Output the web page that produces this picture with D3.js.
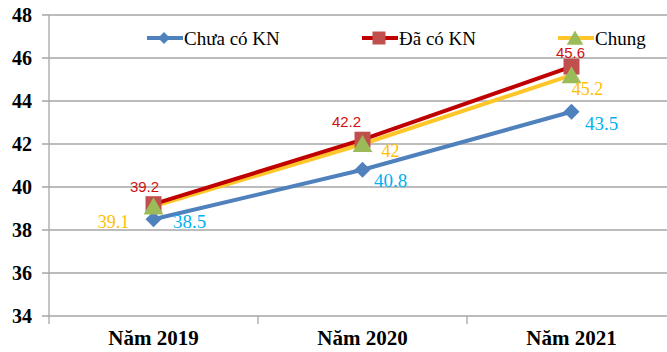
<!DOCTYPE html>
<html><head><meta charset="utf-8">
<script src="https://cdn.jsdelivr.net/npm/d3@7"></script>
<style>body{margin:0;background:#fff}svg{display:block}</style>
</head><body>
<script>
const categories = ["Năm 2019", "Năm 2020", "Năm 2021"];
const seriesNames = ["Chưa có KN", "Đã có KN", "Chung"];
const chuaCoKN = [38.5, 40.8, 43.5];
const daCoKN = [39.2, 42.2, 45.6];
const chung = [39.1, 42, 45.2];
const yTicks = [34, 36, 38, 40, 42, 44, 46, 48];

const W = 667, H = 352;
const svg = d3.select("body").append("svg").attr("width", W).attr("height", H);
const x = d3.scalePoint().domain(categories).range([49, 676]).padding(0.5);
const y = d3.scaleLinear().domain([34, 48]).range([316, 15]);
const serif = "'Liberation Serif','Times New Roman',serif";

svg.append("g").selectAll("line").data(yTicks).join("line")
  .attr("x1", 42).attr("x2", W).attr("y1", d => y(d)).attr("y2", d => y(d))
  .attr("stroke", "#a6a6a6").attr("stroke-width", 1.3);
svg.append("line").attr("x1", 49).attr("x2", 49).attr("y1", y(48)).attr("y2", y(34))
  .attr("stroke", "#a6a6a6").attr("stroke-width", 1.3);
svg.append("g").selectAll("text").data(yTicks).join("text")
  .attr("x", 32).attr("y", d => y(d)).attr("dy", "0.35em").attr("text-anchor", "end")
  .attr("font-family", serif).attr("font-weight", "bold").attr("font-size", 20)
  .attr("fill", "#000").text(d => d);
const step = x.step();
const tickXs = categories.map(c => x(c) - step / 2);
svg.append("g").selectAll("line").data(tickXs).join("line")
  .attr("x1", d => d).attr("x2", d => d).attr("y1", y(34)).attr("y2", y(34) + 8)
  .attr("stroke", "#a6a6a6").attr("stroke-width", 1.3);
svg.append("g").selectAll("text").data(categories).join("text")
  .attr("x", d => x(d)).attr("y", 345).attr("text-anchor", "middle")
  .attr("font-family", serif).attr("font-weight", "bold").attr("font-size", 21)
  .attr("fill", "#000").text(d => d);

const series = [
  {name: seriesNames[0], values: chuaCoKN, line: "#4F81BD", marker: "#4F81BD", shape: "diamond", label: "#00B0F0",
   lfont: serif, lsize: 19, off: [[36, 2], [28, 11], [30, 12]]},
  {name: seriesNames[1], values: daCoKN, line: "#C00000", marker: "#C0504D", shape: "square", label: "#D01010",
   lfont: "'Liberation Sans',Arial,sans-serif", lsize: 15, off: [[-9, -17], [-16, -18], [-1, -14]]},
  {name: seriesNames[2], values: chung, line: "#FFC629", marker: "#9BBB59", shape: "triangle", label: "#FFC000",
   lfont: serif, lsize: 18, off: [[-40, 15], [28, 7], [16, 13]]}
];
function shapePath(shape, r) {
  if (shape === "diamond") return `M0,${-r}L${r},0L0,${r}L${-r},0Z`;
  if (shape === "square") return `M${-r},${-r}H${r}V${r}H${-r}Z`;
  return `M0,${-r}L${r * 1.1},${r * 0.9}H${-r * 1.1}Z`;
}
const markerR = {diamond: 8, square: 8, triangle: 9};
const line = d3.line().x((d, i) => x(categories[i])).y(d => y(d));
[0, 2, 1].forEach(k => {
  const s = series[k];
  svg.append("path").attr("d", line(s.values)).attr("fill", "none")
    .attr("stroke", s.line).attr("stroke-width", 4).attr("stroke-linejoin", "round");
});
[0, 1, 2].forEach(k => {
  const s = series[k];
  svg.append("g").selectAll("path").data(s.values).join("path")
    .attr("d", shapePath(s.shape, markerR[s.shape])).attr("fill", s.marker)
    .attr("transform", (d, i) => `translate(${x(categories[i])},${y(d)})`);
});
series.forEach(s => {
  svg.append("g").selectAll("text").data(s.values).join("text")
    .attr("x", (d, i) => x(categories[i]) + s.off[i][0])
    .attr("y", (d, i) => y(d) + s.off[i][1]).attr("dy", "0.35em")
    .attr("text-anchor", "middle").attr("font-family", s.lfont).attr("font-size", s.lsize)
    .attr("fill", s.label).text(d => d);
});

const legendItems = [
  {s: series[0], x0: 147, r: 6},
  {s: series[1], x0: 362, r: 6.5},
  {s: series[2], x0: 558, r: 7.5}
];
const ly = 38;
legendItems.forEach(it => {
  const g = svg.append("g");
  g.append("line").attr("x1", it.x0).attr("x2", it.x0 + 36).attr("y1", ly).attr("y2", ly)
    .attr("stroke", it.s.line).attr("stroke-width", 4);
  g.append("path").attr("d", shapePath(it.s.shape, it.r))
    .attr("fill", it.s.marker).attr("transform", `translate(${it.x0 + 17},${ly})`);
  g.append("text").attr("x", it.x0 + 37).attr("y", ly).attr("dy", "0.35em")
    .attr("font-family", serif).attr("font-size", 19).attr("fill", "#000").text(it.s.name);
});
</script>
</body></html>
